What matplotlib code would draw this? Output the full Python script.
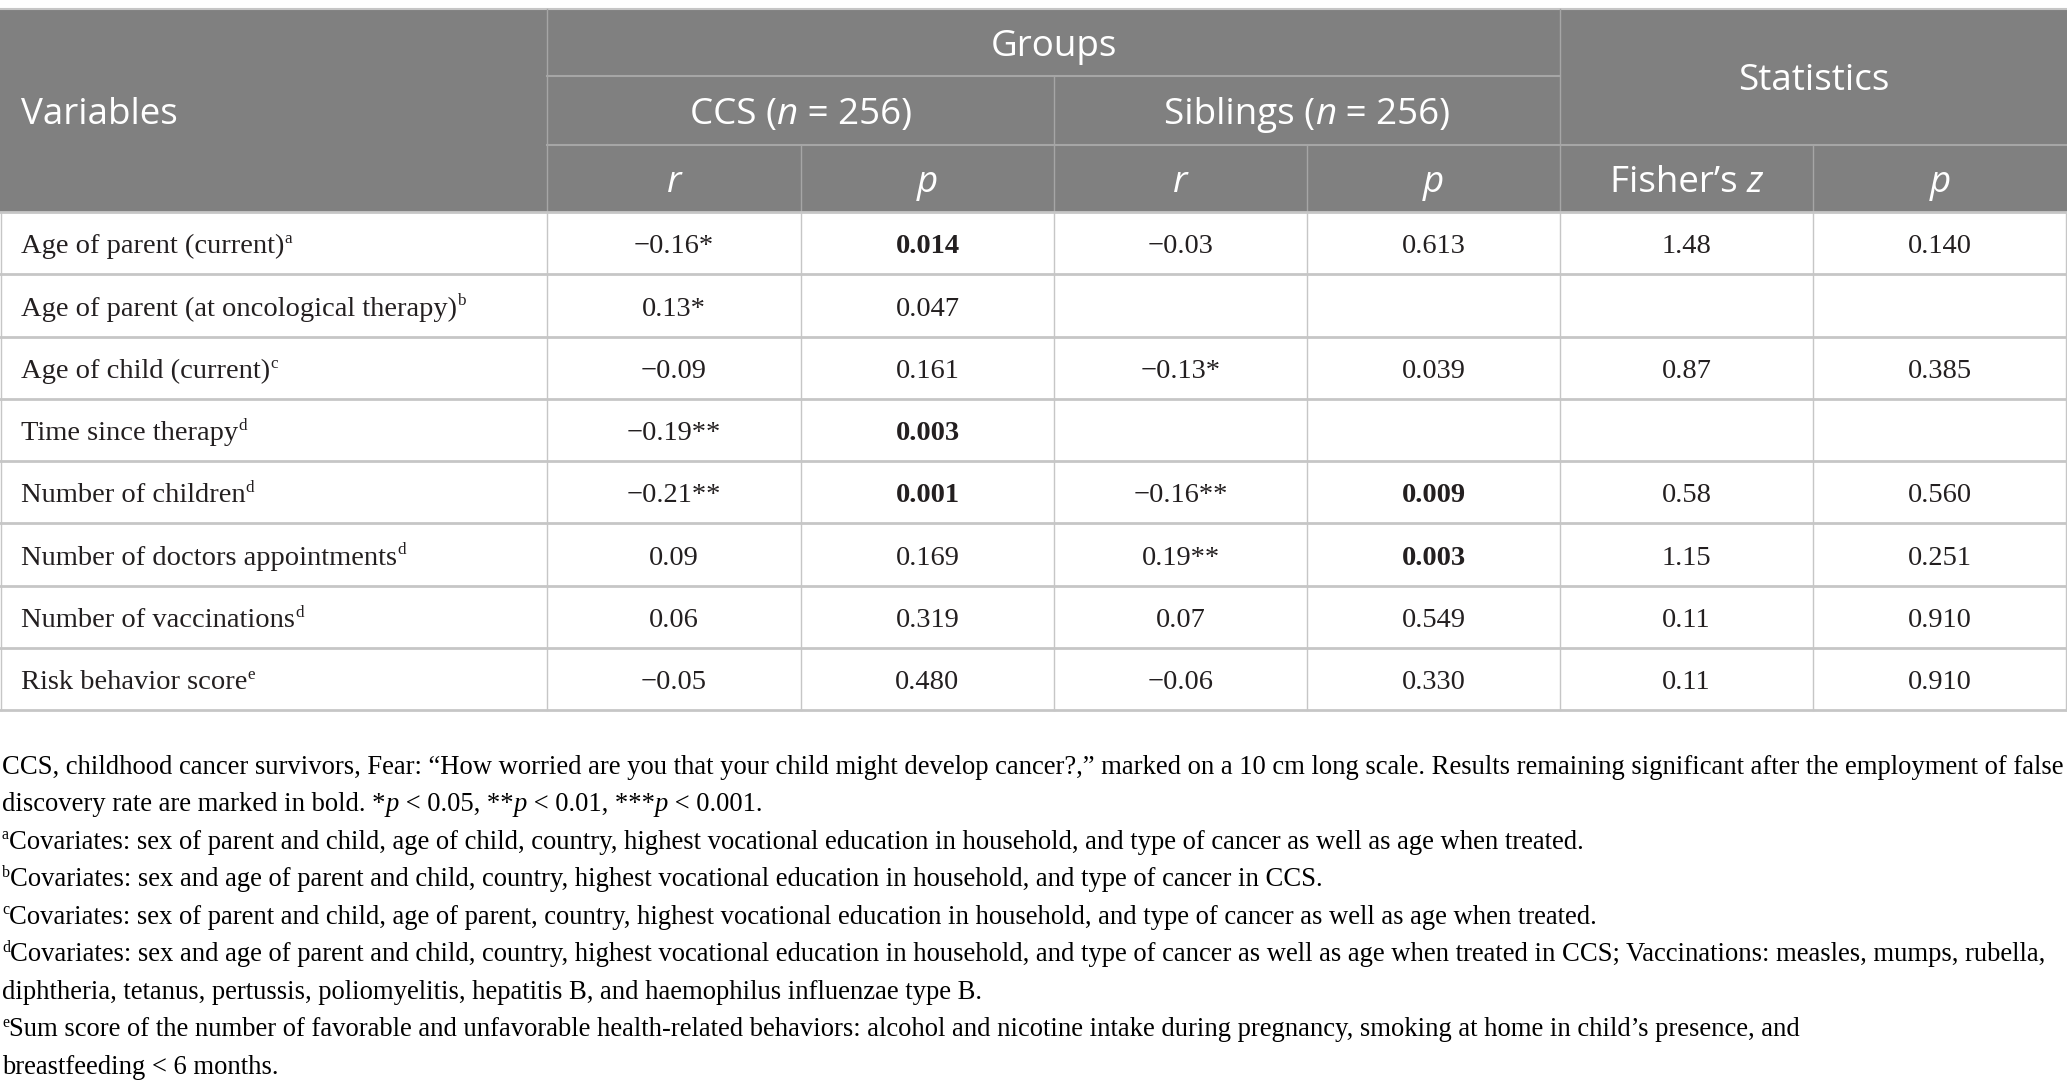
import matplotlib
matplotlib.use("Agg")
from matplotlib import pyplot as plt

# ---- table data ----
variables = ['Age of parent (current)', 'Age of parent (at oncological therapy)',
             'Age of child (current)', 'Time since therapy', 'Number of children',
             'Number of doctors appointments', 'Number of vaccinations', 'Risk behavior score']
var_notes = ['a', 'b', 'c', 'd', 'd', 'd', 'd', 'e']
ccs_r = ['\u22120.16*', '0.13*', '\u22120.09', '\u22120.19**', '\u22120.21**', '0.09', '0.06', '\u22120.05']
ccs_p = ['0.014', '0.047', '0.161', '0.003', '0.001', '0.169', '0.319', '0.480']
ccs_p_bold = [True, False, False, True, True, False, False, False]
sib_r = ['\u22120.03', '', '\u22120.13*', '', '\u22120.16**', '0.19**', '0.07', '\u22120.06']
sib_p = ['0.613', '', '0.039', '', '0.009', '0.003', '0.549', '0.330']
sib_p_bold = [False, False, False, False, True, True, False, False]
fisher_z = ['1.48', '', '0.87', '', '0.58', '1.15', '0.11', '0.11']
stat_p = ['0.140', '', '0.385', '', '0.560', '0.251', '0.910', '0.910']

W, H = 2067, 1091
col_x = [0, 547, 801, 1054, 1307, 1560, 1813, 2067]
head_y = [9, 76, 145, 212]
row_h = 62.25

HEAD_BG = '#808080'
HEAD_LINE = '#a6a6a6'
BODY_LINE = '#c6c6c6'
TXT = '#231f20'
SANS = 'Open Sans'
SERIF = 'Liberation Serif'
HS = 26.5   # header font size (pt)
BS = 20.5   # body font size
FS = 19.2   # footnote font size

fig = plt.figure(figsize=(W / 100, H / 100), dpi=100)
ax = fig.add_axes([0, 0, 1, 1])
ax.set_xlim(0, W)
ax.set_ylim(H, 0)
ax.axis('off')
r = fig.canvas.get_renderer()


def px(pt):
    return pt * 100 / 72


def text_w(s, kw):
    a = ax.text(0, 0, '|' + s + '|', **kw)
    b = ax.text(0, 0, '||', **kw)
    w = a.get_window_extent(r).width - b.get_window_extent(r).width
    a.remove()
    b.remove()
    return w


def run_kw(run):
    s, kw = run
    kw = dict(kw)
    sup = kw.pop('sup', False)
    if sup:
        kw['fontsize'] = kw['fontsize'] * 0.6
    return s, kw, sup


def draw_runs(x, yb, runs, ha='left'):
    parts = [run_kw(rn) for rn in runs]
    widths = [text_w(s, kw) for s, kw, _ in parts]
    total = sum(widths)
    if ha == 'center':
        x = x - total / 2
    for (s, kw, sup), w in zip(parts, widths):
        dy = -px(kw['fontsize'] / 0.6) * 0.36 if sup else 0
        ax.text(x, yb + dy, s, va='baseline', ha='left', **kw)
        x += w
    return total


# ---- header ----
ax.add_patch(plt.Rectangle((0, head_y[0]), W, head_y[3] - head_y[0], color=HEAD_BG, lw=0, zorder=0))
ax.plot([0, W], [head_y[0], head_y[0]], color=BODY_LINE, lw=1.5)
ax.plot([col_x[1], col_x[5]], [head_y[1]] * 2, color=HEAD_LINE, lw=1.5)
ax.plot([col_x[1], W], [head_y[2]] * 2, color=HEAD_LINE, lw=1.5)
for xv in [col_x[1], col_x[5]]:
    ax.plot([xv, xv], [head_y[0], head_y[3]], color=HEAD_LINE, lw=1)
ax.plot([col_x[3]] * 2, [head_y[1], head_y[3]], color=HEAD_LINE, lw=1)
for xv in [col_x[2], col_x[4], col_x[6]]:
    ax.plot([xv, xv], [head_y[2], head_y[3]], color=HEAD_LINE, lw=1)

hn = dict(fontsize=HS, family=SANS, color='white')
hi = dict(hn, style='italic')
hcap = px(HS) * 0.36


def hcell(x0, x1, y0, y1, runs, ha='center'):
    cy = (y0 + y1) / 2 + hcap
    if ha == 'center':
        draw_runs((x0 + x1) / 2, cy, runs, 'center')
    else:
        draw_runs(x0 + 21, cy, runs)


hcell(col_x[0], col_x[1], head_y[0], head_y[3], [('Variables', hn)], ha='left')
hcell(col_x[1], col_x[5], head_y[0], head_y[1], [('Groups', hn)])
hcell(col_x[5], col_x[7], head_y[0], head_y[2], [('Statistics', hn)])
hcell(col_x[1], col_x[3], head_y[1], head_y[2], [('CCS (', hn), ('n', hi), (' = 256)', hn)])
hcell(col_x[3], col_x[5], head_y[1], head_y[2], [('Siblings (', hn), ('n', hi), (' = 256)', hn)])
sub_heads = [[('r', hi)], [('p', hi)], [('r', hi)], [('p', hi)],
             [('Fisher\u2019s ', hn), ('z', hi)], [('p', hi)]]
for j, runs in enumerate(sub_heads):
    hcell(col_x[j + 1], col_x[j + 2], head_y[2], head_y[3], runs)

# ---- body ----
bn = dict(fontsize=BS, family=SERIF, color=TXT)
bb = dict(bn, weight='bold')
bcap = px(BS) * 0.36
n = len(variables)
y_top = head_y[3]
y_bot = y_top + n * row_h
for i in range(n + 1):
    yy = y_top + i * row_h
    ax.plot([0, W], [yy, yy], color=BODY_LINE, lw=2)
for xv in col_x[1:-1] + [1, W - 1]:
    ax.plot([xv, xv], [y_top, y_bot], color=BODY_LINE, lw=1)

columns = [(ccs_r, None), (ccs_p, ccs_p_bold), (sib_r, None), (sib_p, sib_p_bold),
           (fisher_z, None), (stat_p, None)]
for i in range(n):
    cy = y_top + (i + 0.5) * row_h + bcap
    draw_runs(col_x[0] + 21, cy, [(variables[i], bn), (var_notes[i], dict(bn, sup=True))])
    for j, (vals, bold) in enumerate(columns):
        if vals[i]:
            kw = bb if (bold and bold[i]) else bn
            draw_runs((col_x[j + 1] + col_x[j + 2]) / 2, cy, [(vals[i], kw)], 'center')

# ---- footnotes ----
fn = dict(fontsize=FS, family=SERIF, color='black')
fi = dict(fn, style='italic')
fs = dict(fn, sup=True)
notes = [
    [('CCS, childhood cancer survivors, Fear: \u201cHow worried are you that your child might develop cancer?,\u201d marked on a 10 cm long scale. Results remaining significant after the employment of false', fn)],
    [('discovery rate are marked in bold. *', fn), ('p', fi), (' < 0.05, **', fn), ('p', fi), (' < 0.01, ***', fn), ('p', fi), (' < 0.001.', fn)],
    [('a', fs), ('Covariates: sex of parent and child, age of child, country, highest vocational education in household, and type of cancer as well as age when treated.', fn)],
    [('b', fs), ('Covariates: sex and age of parent and child, country, highest vocational education in household, and type of cancer in CCS.', fn)],
    [('c', fs), ('Covariates: sex of parent and child, age of parent, country, highest vocational education in household, and type of cancer as well as age when treated.', fn)],
    [('d', fs), ('Covariates: sex and age of parent and child, country, highest vocational education in household, and type of cancer as well as age when treated in CCS; Vaccinations: measles, mumps, rubella,', fn)],
    [('diphtheria, tetanus, pertussis, poliomyelitis, hepatitis B, and haemophilus influenzae type B.', fn)],
    [('e', fs), ('Sum score of the number of favorable and unfavorable health-related behaviors: alcohol and nicotine intake during pregnancy, smoking at home in child\u2019s presence, and', fn)],
    [('breastfeeding < 6 months.', fn)],
]
fcap = px(FS) * 0.33
for k, runs in enumerate(notes):
    draw_runs(2, 765 + k * 37.5 + fcap, runs)

fig.savefig('out.png', dpi=100)
